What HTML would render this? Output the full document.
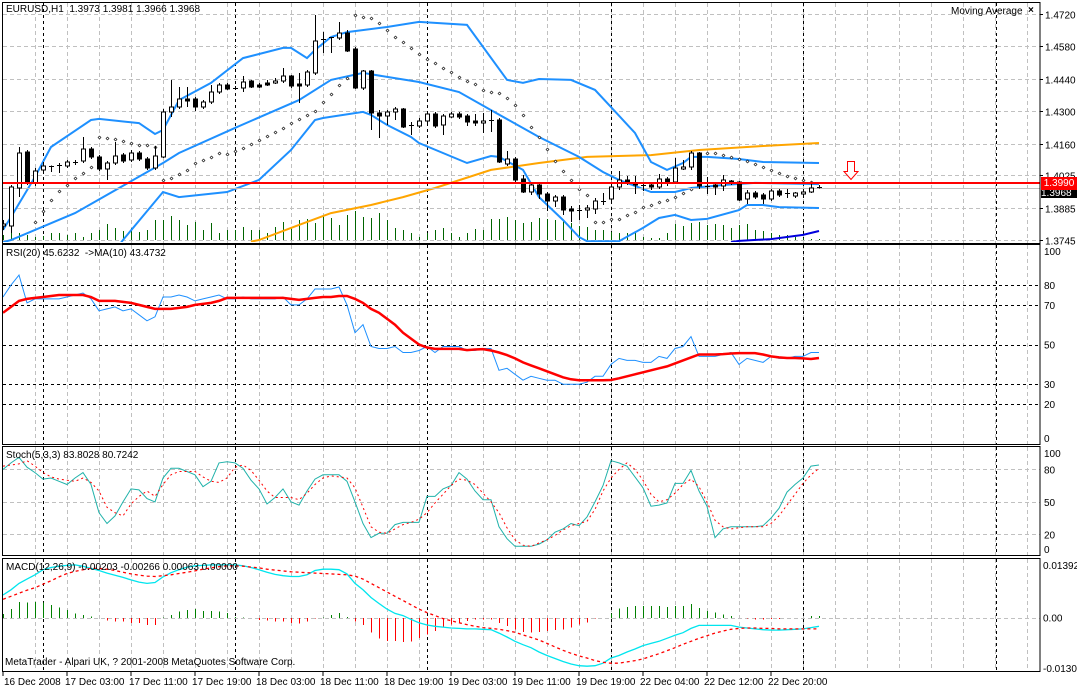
<!DOCTYPE html>
<html><head><meta charset="utf-8"><style>
html,body{margin:0;padding:0;background:#fff;}
svg{display:block;font-family:"Liberation Sans",sans-serif;}
text{font-size:10px;fill:#000;}
</style></head><body>
<svg id="chart" width="1077" height="689" viewBox="0 0 1077 689" xmlns="http://www.w3.org/2000/svg" shape-rendering="crispEdges">
<defs>
<clipPath id="cMain"><rect x="3" y="3" width="1037" height="239"/></clipPath>
<clipPath id="cRsi"><rect x="3" y="245" width="1037" height="198"/></clipPath>
<clipPath id="cSto"><rect x="3" y="447" width="1037" height="107"/></clipPath>
<clipPath id="cMacd"><rect x="3" y="559" width="1037" height="111"/></clipPath>
</defs>
<g id="grid"></g>
<g id="marks"></g>
<g id="frames"></g>
<g id="labels"></g>
</svg>
<script>
// ---------- DATA ----------
const opens=[1.3805,1.3805,1.3969,1.4124,1.3991,1.4047,1.4064,1.4064,1.4064,1.4081,1.4085,1.4137,1.4103,1.4051,1.4077,1.4111,1.4090,1.4120,1.4094,1.4055,1.4103,1.4297,1.4318,1.4353,1.4353,1.4318,1.4340,1.4383,1.4413,1.4400,1.4400,1.4430,1.4413,1.4422,1.4422,1.4430,1.4452,1.4417,1.4413,1.4465,1.4611,1.4620,1.4616,1.4637,1.4568,1.4400,1.4473,1.4292,1.4279,1.4297,1.4310,1.4241,1.4236,1.4258,1.4288,1.4241,1.4275,1.4288,1.4279,1.4258,1.4249,1.4262,1.4262,1.4073,1.4094,1.4008,1.3952,1.3982,1.3943,1.3913,1.3930,1.3879,1.3874,1.3874,1.3879,1.3913,1.3922,1.3973,1.4004,1.3991,1.3982,1.3982,1.3973,1.4008,1.3995,1.4051,1.4060,1.4120,1.3978,1.3982,1.3978,1.3999,1.3995,1.3922,1.3948,1.3939,1.3922,1.3956,1.3948,1.3935,1.3943,1.3952,1.3973];
const highs=[1.3831,1.3982,1.4146,1.4133,1.4055,1.4081,1.4066,1.4077,1.4090,1.4090,1.4189,1.4146,1.4111,1.4085,1.4167,1.4120,1.4133,1.4129,1.4103,1.4150,1.4310,1.4435,1.4404,1.4404,1.4361,1.4348,1.4413,1.4422,1.4422,1.4409,1.4452,1.4435,1.4422,1.4435,1.4443,1.4486,1.4456,1.4465,1.4478,1.4715,1.4641,1.4621,1.4685,1.4650,1.4577,1.4478,1.4478,1.4305,1.4305,1.4318,1.4314,1.4254,1.4271,1.4297,1.4297,1.4288,1.4297,1.4297,1.4288,1.4288,1.4292,1.4305,1.4271,1.4129,1.4103,1.4025,1.3991,1.3991,1.3952,1.3939,1.3939,1.3892,1.3896,1.3896,1.3926,1.3948,1.3982,1.4042,1.4021,1.4021,1.3991,1.3995,1.4029,1.4017,1.4098,1.4090,1.4129,1.4124,1.4017,1.3991,1.4025,1.4004,1.3999,1.3961,1.3956,1.3948,1.3965,1.3965,1.3965,1.3952,1.3961,1.3991,1.3981];
const lows=[1.3788,1.3775,1.3930,1.3982,1.3978,1.4038,1.4038,1.4034,1.4055,1.4068,1.4077,1.4094,1.4042,1.4004,1.4068,1.4077,1.4081,1.4085,1.4047,1.4047,1.4098,1.4275,1.4310,1.4318,1.4301,1.4310,1.4331,1.4374,1.4392,1.4396,1.4383,1.4400,1.4400,1.4409,1.4417,1.4422,1.4400,1.4335,1.4404,1.4456,1.4551,1.4551,1.4607,1.4555,1.4396,1.4392,1.4219,1.4185,1.4241,1.4262,1.4228,1.4198,1.4228,1.4249,1.4228,1.4198,1.4271,1.4267,1.4236,1.4236,1.4206,1.4210,1.4077,1.4064,1.3995,1.3948,1.3939,1.3922,1.3870,1.3887,1.3853,1.3823,1.3831,1.3840,1.3857,1.3896,1.3909,1.3961,1.3982,1.3943,1.3956,1.3961,1.3965,1.3978,1.3986,1.4047,1.4047,1.3965,1.3943,1.3939,1.3956,1.3982,1.3913,1.3900,1.3922,1.3900,1.3913,1.3930,1.3926,1.3926,1.3939,1.3948,1.3966];
const closes=[1.3814,1.3973,1.4120,1.3991,1.4042,1.4064,1.4065,1.4068,1.4081,1.4077,1.4137,1.4103,1.4051,1.4077,1.4107,1.4085,1.4120,1.4094,1.4055,1.4107,1.4297,1.4318,1.4353,1.4344,1.4318,1.4340,1.4383,1.4413,1.4396,1.4401,1.4426,1.4404,1.4404,1.4413,1.4430,1.4452,1.4409,1.4409,1.4469,1.4603,1.4607,1.4616,1.4637,1.4560,1.4400,1.4473,1.4292,1.4279,1.4297,1.4310,1.4232,1.4236,1.4258,1.4288,1.4236,1.4279,1.4288,1.4275,1.4254,1.4249,1.4258,1.4258,1.4081,1.4094,1.4004,1.3952,1.3982,1.3943,1.3913,1.3930,1.3874,1.3870,1.3870,1.3883,1.3913,1.3909,1.3973,1.4004,1.3991,1.3982,1.3978,1.3973,1.4008,1.3991,1.4055,1.4060,1.4120,1.3978,1.3977,1.3973,1.4004,1.3991,1.3917,1.3948,1.3930,1.3922,1.3956,1.3939,1.3947,1.3948,1.3952,1.3969,1.3968];
const volumes=[500,1800,700,500,300,400,700,700,500,700,300,700,1000,1600,1200,900,1200,800,1000,2000,2000,2400,2000,1500,1800,1000,1700,700,1000,1000,1300,1000,1000,700,1300,1800,1300,2000,2100,1700,2500,2200,1500,2500,2900,2300,2200,2700,2000,1200,1000,700,300,700,1000,1200,700,300,700,1100,1000,2100,2100,2300,2000,1700,1800,2200,2100,2000,2000,1700,1400,1300,1000,1000,800,700,700,700,300,200,200,700,1600,1400,1700,1800,1500,1600,1500,1200,1500,1600,1000,900,700,500,500,300,200,100,100];
const bbUpperIdx=[0,1,4,6,11,12,17,19,20,22,26,30,35,36,38,39,41,43,48,52,58,63,65,67,71,74,76,79,81,83,85,86,88,92,95,102];
const bbUpperVal=[1.3788,1.3844,1.4017,1.4146,1.4262,1.4267,1.4249,1.4202,1.4219,1.4348,1.4422,1.4529,1.4573,1.4573,1.4529,1.4564,1.4620,1.4641,1.4663,1.4685,1.4672,1.4435,1.4422,1.4439,1.4435,1.4392,1.4318,1.4206,1.4081,1.4047,1.4077,1.4103,1.4103,1.4094,1.4081,1.4077];
const bbMidIdx=[0,1,9,20,22,29,37,41,45,48,52,57,61,67,72,75,77,81,84,86,90,94,102];
const bbMidVal=[1.3735,1.3745,1.3861,1.4077,1.4120,1.4228,1.4348,1.4435,1.4465,1.4448,1.4426,1.4383,1.4305,1.4189,1.4103,1.4038,1.4004,1.3952,1.3952,1.3969,1.3982,1.3991,1.3986];
const bbLowerIdx=[14,15,20,22,28,32,36,39,40,45,46,48,51,52,58,61,62,65,67,70,72,73,77,80,82,84,86,88,92,93,95,97,102];
const bbLowerVal=[1.3700,1.3745,1.3952,1.3930,1.3952,1.4004,1.4133,1.4262,1.4271,1.4297,1.4284,1.4241,1.4189,1.4163,1.4077,1.4107,1.4103,1.4047,1.3930,1.3831,1.3758,1.3740,1.3740,1.3797,1.3840,1.3853,1.3831,1.3836,1.3874,1.3896,1.3896,1.3887,1.3883];
const maIdx=[31,32,37,41,46,50,54,61,67,73,81,87,95,102];
const maVal=[1.3738,1.3745,1.3810,1.3861,1.3896,1.3930,1.3969,1.4047,1.4077,1.4103,1.4111,1.4133,1.4150,1.4163];
const ma2Idx=[91,92,96,100,102];
const ma2Val=[1.3736,1.3741,1.3749,1.3767,1.3784];
const sarStart=4;
const sarVal=[1.3823,1.3870,1.3917,1.3956,1.3982,1.4012,1.4034,1.4060,1.4189,1.4185,1.4180,1.4172,1.4163,1.4154,1.4154,1.4146,1.4004,1.4012,1.4029,1.4047,1.4077,1.4090,1.4103,1.4120,1.4116,1.4129,1.4142,1.4159,1.4176,1.4193,1.4210,1.4228,1.4249,1.4267,1.4284,1.4301,1.4340,1.4374,1.4413,1.4443,1.4715,1.4706,1.4702,1.4680,1.4650,1.4620,1.4598,1.4572,1.4547,1.4525,1.4508,1.4486,1.4469,1.4448,1.4430,1.4417,1.4392,1.4383,1.4379,1.4357,1.4327,1.4284,1.4232,1.4189,1.4137,1.4085,1.4042,1.4004,1.3965,1.3939,1.3823,1.3823,1.3836,1.3836,1.3853,1.3866,1.3887,1.3896,1.3909,1.3917,1.3930,1.3948,1.3965,null,1.4120,1.4120,1.4111,1.4103,1.4094,1.4085,1.4073,1.4060,1.4047,1.4034,1.4021,1.4012,1.4004,1.3995];
const priceTicks=[1.4720,1.4580,1.4440,1.4300,1.4160,1.4025,1.3885,1.3745];
const rsiVals=[74,80,85,71,73,73,73,73,74,75,76,73,67,68,69,67,68,65,62,64,74,74,75,74,72,73,74,75,73,73,74,73,73,73,73,74,70,70,73,78,78,78,79,70,56,60,49,48,48,49,46,46,47,49,46,49,49,49,47,47,48,48,37,38,35,32,34,33,32,32,30,30,30,31,34,34,40,43,42,42,41,41,44,43,48,49,54,44,44,44,45,46,40,43,42,41,44,43,43,44,44,46,46];
const rsiMaVals=[66,69,72,73,73.5,74,74.5,75,75,75,75,74,72,72,72,71.5,71,70,69,68,68,68,68.5,69,70,70.5,71,72,73.5,73.5,73.5,73.5,73.5,73.5,73.5,73.5,73,72.5,73,73.5,74,74,74.5,74.5,73,71,68,66,63,60,56,53,50,48.5,47.8,47.8,47.8,47.8,47.2,47.5,47.7,47,46,44.7,43,41,39.5,38,36.5,35,33.5,32.5,32,32,32,32,32.1,33,34,35,36,37,38,39,40.5,42,43.5,45,45,45,45.2,45.5,45.7,45.7,45.7,45,44,43.5,43.2,43.2,43,42.7,43.2];
const rsiLevels=[80,70,50,30,20];
const rsiTicks=[100,80,70,50,30,20,0];
const stochK=[80,86,91,82,77,71,72,69,66,72,77,66,40,30,37,50,62,61,53,50,72,81,81,78,75,64,69,86,87,86,81,70,62,48,54,62,50,47,60,71,75,75,75,69,50,30,17,21,21,29,31,31,31,55,55,62,65,77,71,60,52,52,27,16,9,9,9,11,15,22,25,30,28,36,50,65,88,86,83,73,63,46,47,49,67,67,79,60,46,17,25,27,27,27,27,28,35,44,59,66,72,83,84];
const stochD=[83,84,85,88,83,77,73,71,70,69,72,68,60,45,40,37,48,55,60,55,66,75,78,78,78,73,69,68,72,82,84,79,70,60,54,54,54,52,58,66,72,74,73,72,63,45,27,22,21,25,29,31,34,40,49,57,65,71,70,66,58,50,40,26,15,10,9,12,15,19,24,28,30,32,43,60,72,80,86,80,70,57,50,52,58,66,71,64,50,33,27,25,26,27,27,27,30,37,47,57,67,75,81];
const stochLevels=[80,50,20];
const stochTicks=[100,80,50,20,0];
const macdMain=[.0053,.0065,.0080,.0090,.0100,.0112,.0117,.0120,.0122,.0123,.0120,.0115,.0110,.0104,.0099,.0094,.0088,.0083,.0080,.0082,.0095,.0105,.0112,.0118,.0121,.0122,.0123,.0123,.0123,.0123,.0121,.0117,.0112,.0106,.0101,.0098,.0096,.0096,.0100,.0110,.0113,.0113,.0112,.0102,.0080,.0065,.0047,.0033,.0020,.0010,.0005,-.0004,-.0012,-.0017,-.0020,-.0022,-.0024,-.0025,-.0026,-.0026,-.0027,-.0028,-.0036,-.0045,-.0055,-.0063,-.0070,-.0080,-.0088,-.0095,-.0102,-.0108,-.0112,-.0113,-.0112,-.0106,-.0094,-.0088,-.0080,-.0073,-.0065,-.0060,-.0055,-.0048,-.0041,-.0035,-.0025,-.0018,-.0018,-.0018,-.0018,-.0018,-.0022,-.0024,-.0026,-.0028,-.0029,-.0029,-.0028,-.0027,-.0026,-.0023,-.0020];
const macdSignal=[.0043,.0050,.0057,.0064,.0070,.0078,.0086,.0095,.0103,.0108,.0112,.0115,.0115,.0113,.0110,.0106,.0102,.0099,.0097,.0096,.0098,.0100,.0103,.0106,.0109,.0113,.0116,.0119,.0121,.0121,.0120,.0118,.0116,.0113,.0111,.0109,.0107,.0106,.0105,.0104,.0103,.0102,.0101,.0100,.0097,.0090,.0080,.0070,.0060,.0050,.0040,.0030,.0020,.0012,.0005,-.0002,-.0007,-.0012,-.0016,-.0020,-.0023,-.0025,-.0027,-.0030,-.0034,-.0040,-.0046,-.0052,-.0060,-.0068,-.0076,-.0083,-.0089,-.0094,-.0100,-.0104,-.0106,-.0106,-.0103,-.0100,-.0096,-.0090,-.0084,-.0077,-.0070,-.0062,-.0055,-.0048,-.0042,-.0036,-.0031,-.0027,-.0025,-.0024,-.0024,-.0025,-.0025,-.0026,-.0026,-.0026,-.0026,-.0026,-.0026];
const macdHist=[.0009,.0020,.0037,.0035,.0037,.0035,.0030,.0024,.0018,.0010,.0006,.0003,0,-.0007,-.0009,-.0009,-.0012,-.0012,-.0017,-.0017,.0001,.0006,.0014,.0018,.0020,.0016,.0016,.0014,.0011,.0002,.0001,-.0001,-.0005,-.0007,-.0009,-.0009,-.0012,-.0013,-.0009,-.0002,.0001,.0006,.0011,.0002,-.0009,-.0017,-.0035,-.0048,-.0054,-.0054,-.0057,-.0055,-.0047,-.0039,-.0031,-.0023,-.0016,-.0012,-.0008,-.0004,-.0004,-.0004,-.0012,-.0019,-.0027,-.0033,-.0035,-.0033,-.0031,-.0029,-.0027,-.0023,-.0016,-.0011,-.0002,0,.0010,.0021,.0025,.0027,.0027,.0027,.0027,.0025,.0027,.0027,.0032,.0023,.0016,.0012,.0008,.0004,-.0001,-.0002,-.0004,-.0004,-.0003,-.0003,-.0001,0,0,.0004,.0004];
const timeLabels=["16 Dec 2008","17 Dec 03:00","17 Dec 11:00","17 Dec 19:00","18 Dec 03:00","18 Dec 11:00","18 Dec 19:00","19 Dec 03:00","19 Dec 11:00","19 Dec 19:00","22 Dec 04:00","22 Dec 12:00","22 Dec 20:00"];
const bidPrice=1.3968, linePrice=1.3990;

// ---------- AXES ----------
const X=i=>3+8*i;
const pY=p=>240-(p-1.3745)/0.000431;
const rY=v=>443.7-1.983*v;
const sY=v=>556-1.083*v;
const mY=v=>617.7-4290*v;
const NS="http://www.w3.org/2000/svg";
function mk(parent,tag,attrs){const e=document.createElementNS(NS,tag);for(const k in attrs)e.setAttribute(k,attrs[k]);parent.appendChild(e);return e;}
const grid=document.getElementById('grid'),marks=document.getElementById('marks'),frames=document.getElementById('frames'),labels=document.getElementById('labels');
const panels=[[3,243],[245,444],[447,555],[559,671]];
const dashGray={stroke:'#c0c0c0','stroke-dasharray':'4,3','stroke-width':1};
for(let x=35;x<1040;x+=32){for(const[a,b]of panels){const l=mk(grid,'line',Object.assign({x1:x+0.5,x2:x+0.5,y1:a,y2:b},dashGray));}}
for(const x of [43,235,427,611,803,996]){for(const[a,b]of panels){const l=mk(grid,'line',{x1:x+0.5,x2:x+0.5,y1:a,y2:b,stroke:'#000','stroke-dasharray':'3,3'});}}
priceTicks.forEach(p=>{const y=Math.round(pY(p))+0.5;const l=mk(grid,'line',Object.assign({x1:3,x2:1040,y1:y,y2:y},dashGray));
 const t=mk(labels,'text',{x:1045,y:y+4});t.textContent=p.toFixed(4);
 mk(labels,'line',{x1:1040,x2:1043,y1:y,y2:y,stroke:'#000'});});
rsiLevels.forEach(v=>{const y=Math.round(rY(v))+0.5;const l=mk(grid,'line',{x1:3,x2:1040,y1:y,y2:y,stroke:'#000','stroke-dasharray':'3,3'});});
rsiTicks.forEach(v=>{const y=Math.min(Math.max(rY(v),251),438);const t=mk(labels,'text',{x:1044,y:y+4});t.textContent=v;});
stochLevels.forEach(v=>{const y=Math.round(sY(v))+0.5;const l=mk(grid,'line',Object.assign({x1:3,x2:1040,y1:y,y2:y},dashGray));});
stochTicks.forEach(v=>{const y=Math.min(Math.max(sY(v),453),549);const t=mk(labels,'text',{x:1044,y:y+4});t.textContent=v;});
{const y=Math.round(mY(0))+0.5;const l=mk(grid,'line',Object.assign({x1:3,x2:1040,y1:y,y2:y},dashGray));}
[[0.01392,'0.01392',565],[0,'0.00',null],[-0.01305,'-0.01305',668]].forEach(([v,s,fy])=>{const y=fy||mY(v);const t=mk(labels,'text',{x:1043,y:y+4});t.textContent=s;});

// ---------- MAIN PANEL ----------
const gMain=mk(marks,'g',{'clip-path':'url(#cMain)'});


volumes.forEach((v,i)=>{const l=mk(gMain,'line',{x1:X(i)+0.5,x2:X(i)+0.5,y1:240,y2:240-v/100,stroke:'#006400','stroke-width':1});});
function sparse(g,idx,val,fy,color,w,name){const pts=idx.map((i,k)=>X(i)+','+fy(val[k]).toFixed(1)).join(' ');const pl=mk(g,'polyline',{points:pts,fill:'none',stroke:color,'stroke-width':w,'shape-rendering':'auto'});}
sparse(gMain,maIdx,maVal,pY,'#ffa500',2,'moving-average-line');
sparse(gMain,ma2Idx,ma2Val,pY,'#0000dd',2,'moving-average-2-line');
sparse(gMain,bbUpperIdx,bbUpperVal,pY,'#1e90ff',2,'bollinger-upper');
sparse(gMain,bbMidIdx,bbMidVal,pY,'#1e90ff',2,'bollinger-middle');
sparse(gMain,bbLowerIdx,bbLowerVal,pY,'#1e90ff',2,'bollinger-lower');
sarVal.forEach((v,k)=>{if(v==null)return;const i=k+sarStart;const x=X(i)+0.5,y=Math.round(pY(v))+0.5;const d=mk(gMain,'path',{d:`M${x} ${y-1.5} L${x+1.5} ${y} L${x} ${y+1.5} L${x-1.5} ${y} Z`,fill:'#fff',stroke:'#000','stroke-width':0.6,'shape-rendering':'auto'});});
{const y=Math.round(pY(bidPrice))+0.5;const l=mk(gMain,'line',{x1:3,x2:1040,y1:y,y2:y,stroke:'#c0c0c0'});}
opens.forEach((o,i)=>{const c=closes[i],x=X(i);const g=mk(gMain,'g',{});
 mk(g,'line',{x1:x+0.5,x2:x+0.5,y1:pY(highs[i]),y2:pY(lows[i]),stroke:'#000'});
 const top=pY(Math.max(o,c)),bot=pY(Math.min(o,c));
 if(bot-top<1.2){mk(g,'line',{x1:x-2,x2:x+3,y1:Math.round(top)+0.5,y2:Math.round(top)+0.5,stroke:'#000'});}
 else mk(g,'rect',{x:x-1.5,y:top,width:4,height:bot-top,fill:c>=o?'#fff':'#000',stroke:'#000'});});
{const y=Math.round(pY(linePrice));const l=mk(marks,'line',{x1:3,x2:1040,y1:y,y2:y,stroke:'#ff0000','stroke-width':2});}

// ---------- RSI ----------
function series(g,vals,fy,color,w,dash,name){const pts=vals.map((v,i)=>X(i)+','+fy(v).toFixed(1)).join(' ');const a={points:pts,fill:'none',stroke:color,'stroke-width':w,'shape-rendering':'auto'};if(dash)a['stroke-dasharray']=dash;const pl=mk(g,'polyline',a);}
const gR=mk(marks,'g',{'clip-path':'url(#cRsi)'});


series(gR,rsiVals,rY,'#1e90ff',1,null,'rsi-line');
series(gR,rsiMaVals,rY,'#ff0000',2.5,null,'rsi-ma-line');
// ---------- STOCH ----------
const gS=mk(marks,'g',{'clip-path':'url(#cSto)'});


series(gS,stochK,sY,'#20b2aa',1,null,'stoch-main-line');
series(gS,stochD,sY,'#ff0000',1,'2,3','stoch-signal-line');
// ---------- MACD ----------
const gM=mk(marks,'g',{'clip-path':'url(#cMacd)'});


macdHist.forEach((v,i)=>{if(v===0)return;const l=mk(gM,'line',{x1:X(i)+0.5,x2:X(i)+0.5,y1:Math.round(mY(0)),y2:mY(v),stroke:v>0?'#008000':'#ff0000','stroke-width':1});});
series(gM,macdMain,mY,'#00e5ee',1.3,null,'macd-main-line');
series(gM,macdSignal,mY,'#ff0000',1.3,'3,3','macd-signal-line');

// ---------- FRAMES ----------
panels.forEach(([a,b])=>{const r=mk(frames,'rect',{x:2.5,y:a-0.5,width:1037.5,height:b-a+1,fill:'none',stroke:'#000'});});
timeLabels.forEach((s,k)=>{const x=k===0?4:65+64*(k-1)-(k>2?1:0);const t=mk(labels,'text',{x:x,y:685});t.textContent=s;
 mk(labels,'line',{x1:k===0?3:X(8*k),x2:k===0?3:X(8*k),y1:672,y2:676,stroke:'#000'});});
</script>
<div style="position:absolute;left:0;top:0;width:1077px;height:689px;pointer-events:none;font-family:'Liberation Sans',sans-serif;font-size:10px;">
  <div style="position:absolute;left:6px;top:4px;">EURUSD,H1&nbsp; 1.3973 1.3981 1.3966 1.3968</div>
  <div style="position:absolute;left:951px;top:6px;">Moving Average</div>
  <div style="position:absolute;left:1028px;top:5px;font-weight:bold;">×</div>
  <div style="position:absolute;left:6px;top:248px;">RSI(20) 45.6232&nbsp; -&gt;MA(10) 43.4732</div>
  <div style="position:absolute;left:6px;top:450px;">Stoch(5,3,3) 83.8028 80.7242</div>
  <div style="position:absolute;left:6px;top:562px;">MACD(12,26,9) -0.00203 -0.00266 0.00063 0.00000</div>
  <div style="position:absolute;left:5px;top:657px;">MetaTrader - Alpari UK, ? 2001-2008 MetaQuotes Software Corp.</div>
  <div style="position:absolute;left:1041px;top:190px;width:36px;height:8px;background:#000;color:#fff;overflow:hidden;line-height:8px;">1.3968</div>
  <div style="position:absolute;left:1041px;top:177px;width:36px;height:13px;background:#ff0000;color:#fff;line-height:13px;text-align:center;">1.3990</div>
  <svg style="position:absolute;left:843px;top:161px;" width="16" height="20"><path d="M4.5 0.5 H11.5 V10.5 H15 L8 18.5 L1 10.5 H4.5 Z" fill="#fff" stroke="#ff0000"/></svg>
</div>
</body></html>
